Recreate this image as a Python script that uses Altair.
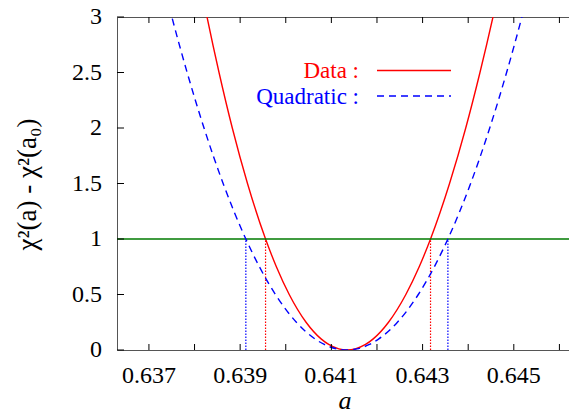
import altair as alt
import pandas as pd

# ---- data ----
chi_levels = [3.3, 3.0, 2.5, 2.0, 1.5, 1.0, 0.75, 0.5, 0.25, 0.1, 0.05, 0.01, 0.0,
              0.01, 0.05, 0.1, 0.25, 0.5, 0.75, 1.0, 1.5, 2.0, 2.5, 3.0, 3.3]
red_a = [0.638127, 0.638274, 0.638537, 0.638828, 0.639161, 0.639557, 0.639794, 0.640076,
         0.640445, 0.640774, 0.640941, 0.641163, 0.641344, 0.641525, 0.641749, 0.641918,
         0.642253, 0.642633, 0.642926, 0.643174, 0.643591, 0.643946, 0.644258, 0.644543, 0.644703]
blue_a = [0.637316, 0.637503, 0.637838, 0.638208, 0.638627, 0.639125, 0.639422, 0.639774,
          0.640233, 0.640640, 0.640845, 0.641119, 0.641340, 0.641561, 0.641835, 0.642040,
          0.642448, 0.642906, 0.643258, 0.643555, 0.644053, 0.644472, 0.644842, 0.645177, 0.645364]
red_cross = [0.639557, 0.643174]
blue_cross = [0.639125, 0.643555]
level = [1.0]
x_tick_vals = [0.637, 0.638, 0.639, 0.640, 0.641, 0.642, 0.643, 0.644, 0.645, 0.646]
x_label_vals = [0.637, 0.639, 0.641, 0.643, 0.645]
y_tick_vals = [0, 0.5, 1, 1.5, 2, 2.5, 3]
legend_labels = ["Data :", "Quadratic :"]
x_title = "a"
y_title = "χ²(a) - χ²(a₀)"

W, H = 452, 333
FONT = "Liberation Serif"
RED, BLUE, GREEN = "#ff0000", "#0000ff", "#007a00"

xs = alt.Scale(domain=[0.6363, 0.64621], nice=False, zero=False)
ys = alt.Scale(domain=[0, 3], nice=False, zero=False)

red_df = pd.DataFrame({"a": red_a, "chi": chi_levels})
blue_df = pd.DataFrame({"a": blue_a, "chi": chi_levels})
rc_df = pd.DataFrame({"a": red_cross, "y0": [0, 0], "y1": [1, 1]})
bc_df = pd.DataFrame({"a": blue_cross, "y0": [0, 0], "y1": [1, 1]})
lvl_df = pd.DataFrame({"chi": level})
xt_df = pd.DataFrame({"a": x_tick_vals})
xl_df = pd.DataFrame({"a": x_label_vals})
yt_df = pd.DataFrame({"chi": y_tick_vals})
one = pd.DataFrame({"k": [0]})

X = alt.X("a:Q", scale=xs, axis=None)
Y = alt.Y("chi:Q", scale=ys, axis=None)

red_line = alt.Chart(red_df).mark_line(color=RED, strokeWidth=1.4, interpolate="monotone",
                                       clip=True).encode(x=X, y=Y, order="a:Q")
blue_line = alt.Chart(blue_df).mark_line(color=BLUE, strokeWidth=1.4, strokeDash=[7, 5],
                                         interpolate="monotone", clip=True).encode(
    x=X, y=Y, order="a:Q")
green = alt.Chart(lvl_df).mark_rule(color=GREEN, strokeWidth=1.3).encode(y=Y)
red_v = alt.Chart(rc_df).mark_rule(color=RED, strokeWidth=1.2, strokeDash=[1.5, 1.5]).encode(
    x=X, y=alt.Y("y0:Q", scale=ys, axis=None), y2="y1:Q")
blue_v = alt.Chart(bc_df).mark_rule(color=BLUE, strokeWidth=1.2, strokeDash=[1.5, 1.5]).encode(
    x=X, y=alt.Y("y0:Q", scale=ys, axis=None), y2="y1:Q")

tick_bottom = alt.Chart(xt_df).mark_rule(color="black", strokeWidth=1).encode(
    x=X, y=alt.value(H), y2=alt.value(H - 6))
tick_top = alt.Chart(xt_df).mark_rule(color="black", strokeWidth=1).encode(
    x=X, y=alt.value(0), y2=alt.value(6))
tick_left = alt.Chart(yt_df).mark_rule(color="black", strokeWidth=1).encode(
    y=Y, x=alt.value(0), x2=alt.value(7))

# axis labels and titles as text marks
x_labels = alt.Chart(xl_df).mark_text(font=FONT, fontSize=24, color="black", align="center",
                                      baseline="middle").encode(
    x=X, y=alt.value(H + 26), text=alt.Text("a:Q", format=".3f"))
y_labels = alt.Chart(yt_df).mark_text(font=FONT, fontSize=24, color="black", align="right",
                                      baseline="middle").encode(
    y=Y, x=alt.value(-15), text=alt.Text("chi:Q", format="~g"))
x_tit = alt.Chart(one).mark_text(text=x_title, font=FONT, fontSize=26, fontStyle="italic",
                                 color="black", align="center", baseline="alphabetic").encode(
    x=alt.value(W / 2 + 2), y=alt.value(H + 59))
y_tit = alt.Chart(one).mark_text(text=y_title, font=FONT, fontSize=27, color="black",
                                 align="center", baseline="middle", angle=270).encode(
    x=alt.value(-89), y=alt.value(H / 2 + 1))

leg_txt1 = alt.Chart(one).mark_text(text=legend_labels[0], color=RED, font=FONT, fontSize=23,
                                    align="right", baseline="middle").encode(
    x=alt.value(242), y=alt.value(54))
leg_txt2 = alt.Chart(one).mark_text(text=legend_labels[1], color=BLUE, font=FONT, fontSize=23,
                                    align="right", baseline="middle").encode(
    x=alt.value(242), y=alt.value(80))
leg_l1 = alt.Chart(one).mark_rule(color=RED, strokeWidth=1.4).encode(
    x=alt.value(260), x2=alt.value(334), y=alt.value(53.5))
leg_l2 = alt.Chart(one).mark_rule(color=BLUE, strokeWidth=1.4, strokeDash=[7, 5]).encode(
    x=alt.value(260), x2=alt.value(334), y=alt.value(79))

chart = alt.layer(
    red_line, green, red_v, blue_v, blue_line,
    tick_bottom, tick_top, tick_left,
    x_labels, y_labels, x_tit, y_tit,
    leg_txt1, leg_txt2, leg_l1, leg_l2,
).properties(
    width=W, height=H,
    padding={"left": 117, "top": 17, "right": 0, "bottom": 65},
    autosize=alt.AutoSizeParams(type="none"),
    background="white",
).configure_view(
    stroke="#555555", strokeWidth=1
)

chart.save("out.html", embed_options={"renderer": "svg", "actions": False})
